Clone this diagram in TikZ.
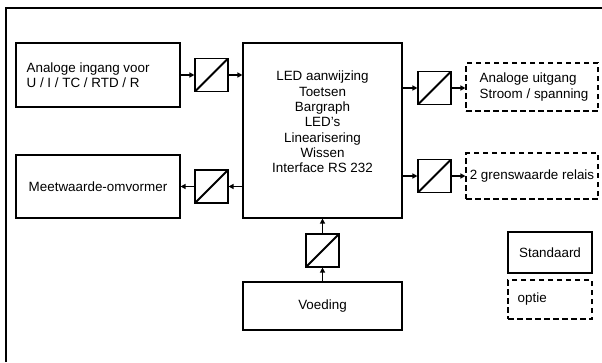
\documentclass[tikz,border=0pt]{standalone}
\usepackage{fontspec}
\setmainfont{Liberation Sans}
\usetikzlibrary{arrows.meta,positioning,calc}

\tikzset{
  blok/.style={draw,line width=1.1pt,inner sep=0pt},
  optieblok/.style={blok,dashed,dash pattern=on 5.5pt off 3.5pt},
  omzetter/.style={draw,line width=1.1pt,minimum size=33pt,inner sep=0pt,
    path picture={\draw[line width=2pt] (path picture bounding box.south west)
      -- (path picture bounding box.north east);}},
  pijl/.style={line width=1.6pt,-{Triangle[length=5pt,width=5pt]}},
  tekst/.style={inner sep=0pt,align=left}
}

\begin{document}
\begin{tikzpicture}[x=1pt,y=-1pt,font=\fontsize{13.4}{15.3}\selectfont]
  \useasboundingbox (0,0) rectangle (602,362);
  % kader
  \draw[line width=1.1pt] (6,362) -- (6,8) -- (602,8);

  % blokken
  \node[blok,minimum width=164pt,minimum height=64pt] (ingang) at (98,75) {};
  \node[tekst,anchor=west] (ingangtekst) at ($(ingang.west)+(11pt,0)$)
    {Analoge ingang voor\\U / I / TC / RTD / R};
  \node[blok,minimum width=164pt,minimum height=63pt] (meet) at (98,186.5)
    {Meetwaarde-omvormer};
  \node[blok,minimum width=159pt,minimum height=175pt] (hoofd) at (322.5,130.5) {};
  \node[tekst,anchor=north,align=center] (hoofdtekst) at (322.5,71)
    {LED aanwijzing\\Toetsen\\Bargraph\\LED's\\Linearisering\\Wissen\\Interface RS 232};
  \node[blok,minimum width=159pt,minimum height=48pt] (voeding) at (322.5,306) {Voeding};
  \node[optieblok,minimum width=132pt,minimum height=48pt] (uitgang) at (532,87) {};
  \node[tekst,anchor=west] (uitgangtekst) at ($(uitgang.west)+(14pt,0)$)
    {Analoge uitgang\\Stroom / spanning};
  \node[optieblok,minimum width=132pt,minimum height=46pt] (relais) at (532,176)
    {2 grenswaarde relais};
  \node[blok,minimum width=84pt,minimum height=41pt] (standaard) at (550,252.5) {Standaard};
  \node[optieblok,minimum width=84pt,minimum height=39pt] (optie) at (550,299.5) {};
  \node[tekst,anchor=west] (optietekst) at ($(optie.west)+(10pt,0)$) {optie};

  % omzetters
  \node[omzetter] (omz1) at (211.5,75) {};
  \node[omzetter] (omz2) at (211.5,186.5) {};
  \node[omzetter] (omz3) at (434.5,88) {};
  \node[omzetter] (omz4) at (434.5,176) {};
  \node[omzetter] (omz5) at (322.5,250.5) {};

  % verbindingen
  \draw[pijl] (ingang.east) -- (omz1.west);
  \draw[pijl] (omz1.east) -- (omz1.east -| hoofd.west);
  \draw[pijl] (omz2.east -| hoofd.west) -- (omz2.east);
  \draw[pijl] (omz2.west) -- (meet.east);
  \draw[pijl] (omz3.west -| hoofd.east) -- (omz3.west);
  \draw[pijl] (omz3.east) -- (omz3.east -| uitgang.west);
  \draw[pijl] (omz4.west -| hoofd.east) -- (omz4.west);
  \draw[pijl] (omz4.east) -- (relais.west);
  \draw[pijl] (voeding.north) -- (omz5.south);
  \draw[pijl] (omz5.north) -- (hoofd.south);
\end{tikzpicture}
\end{document}
